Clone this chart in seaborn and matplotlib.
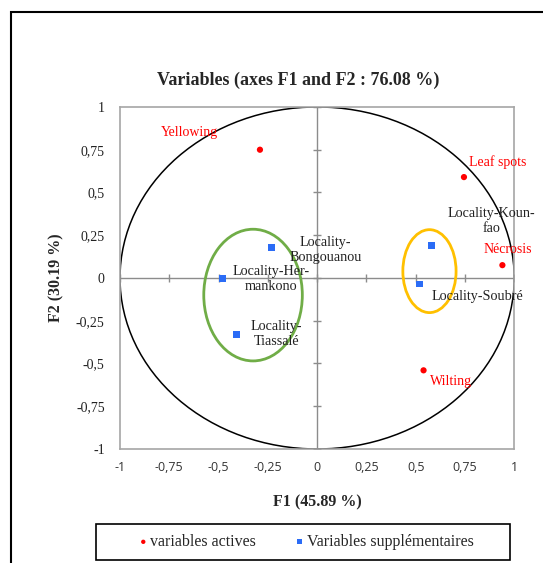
import pandas as pd
import seaborn as sns
import matplotlib.pyplot as plt
from matplotlib.patches import Ellipse, Circle, Rectangle

# active variables (red)
active_names = ["Yellowing", "Leaf spots", "Nécrosis", "Wilting"]
active_f1 = [-0.29, 0.745, 0.94, 0.54]
active_f2 = [0.75, 0.59, 0.075, -0.54]

# supplementary variables (blue)
supp_names = ["Locality-\nBongouanou", "Locality-Her-\nmankono", "Locality-\nTiassalé",
              "Locality-Koun-\nfao", "Locality-Soubré"]
supp_f1 = [-0.23, -0.48, -0.41, 0.58, 0.52]
supp_f2 = [0.18, -0.005, -0.33, 0.19, -0.035]

ticks = [-1, -0.75, -0.5, -0.25, 0, 0.25, 0.5, 0.75, 1]
tick_labels = ["-1", "-0,75", "-0,5", "-0,25", "0", "0,25", "0,5", "0,75", "1"]

title = "Variables (axes F1 and F2 : 76.08 %)"
xlab = "F1 (45.89 %)"
ylab = "F2 (30.19 %)"

# label offsets in pixels
active_off = [(-71, 17), (34, 15), (5, 16), (27, -11)]
supp_off = [(54, -3), (49, 0), (40, 0), (60, 24), (58, -13)]

sns.set_style("white")
plt.rcParams['font.family'] = ['Liberation Serif', 'DejaVu Serif']

df_act = pd.DataFrame({'F1': active_f1, 'F2': active_f2})
df_sup = pd.DataFrame({'F1': supp_f1, 'F2': supp_f2})

fig = plt.figure(figsize=(5.43, 5.63), dpi=100)
ax = fig.add_axes([0.221, 0.2025, 0.726, 0.6075])

# outer frame + legend box
fig.patches.append(Rectangle((0.02, -0.1), 1.2, 0.979 + 0.1, transform=fig.transFigure,
                             fill=False, edgecolor='black', lw=1.5))
fig.patches.append(Rectangle((96 / 543, 3 / 563), 414 / 543, 36 / 563, transform=fig.transFigure,
                             fill=False, edgecolor='black', lw=1.2))

# center lines with ticks
ax.axhline(0, color='#8c8c8c', lw=1, zorder=1)
ax.axvline(0, color='#8c8c8c', lw=1, zorder=1)
ax.plot(ticks, [0] * len(ticks), ls='none', marker='|', ms=6, color='#8c8c8c', zorder=1)
ax.plot([0] * len(ticks), ticks, ls='none', marker='_', ms=6, color='#8c8c8c', zorder=1)

ax.add_patch(Circle((0, 0), 1, fill=False, edgecolor='black', lw=1.1, zorder=2))
ax.add_patch(Ellipse((-0.325, -0.1), 0.5, 0.77, fill=False, edgecolor='#70AD47', lw=2, zorder=2))
ax.add_patch(Ellipse((0.57, 0.04), 0.27, 0.485, fill=False, edgecolor='#FFC000', lw=2, zorder=2))

sns.scatterplot(data=df_act, x='F1', y='F2', color='#FF0000', marker='o', s=20,
                edgecolor='none', ax=ax, zorder=3, label='variables actives')
sns.scatterplot(data=df_sup, x='F1', y='F2', color='#2B6CF6', marker='s', s=24,
                edgecolor='none', ax=ax, zorder=3, label='Variables supplémentaires')

for name, x, y, off in zip(active_names, active_f1, active_f2, active_off):
    ax.annotate(name, (x, y), xytext=off, textcoords='offset pixels', color='#FF0000',
                fontsize=10, ha='center', va='center')
for name, x, y, off in zip(supp_names, supp_f1, supp_f2, supp_off):
    ax.annotate(name, (x, y), xytext=off, textcoords='offset pixels', color='#222222',
                fontsize=10.2, ha='center', va='center', multialignment='center',
                linespacing=1.2)

ax.set_xlim(-1, 1)
ax.set_ylim(-1, 1)
ax.set_xticks(ticks)
ax.set_xticklabels(tick_labels, fontsize=9, family=['Open Sans', 'DejaVu Sans'], color='#333333')
ax.set_yticks(ticks)
ax.set_yticklabels(tick_labels, fontsize=10, color='#222222')
ax.tick_params(axis='x', length=0, pad=9)
ax.tick_params(axis='y', length=0, pad=11)
for s in ax.spines.values():
    s.set_color('#a6a6a6')
    s.set_linewidth(1.2)

ax.set_xlabel(xlab, fontsize=11.5, fontweight='bold', labelpad=14)
ax.set_ylabel(ylab, fontsize=11.5, fontweight='bold', labelpad=8)
fig.text(0.549, 0.858, title, fontsize=13, fontweight='bold', ha='center', va='center')

ax.get_legend().remove()
handles, labels = ax.get_legend_handles_labels()
fig.legend(handles, labels, loc='center', bbox_to_anchor=(306 / 543, 21 / 563),
           ncol=2, fontsize=11.5, frameon=False, markerscale=0.7,
           handletextpad=0.15, handlelength=0.6, columnspacing=2.4, borderaxespad=0)

fig.savefig('out.png', dpi=100)
